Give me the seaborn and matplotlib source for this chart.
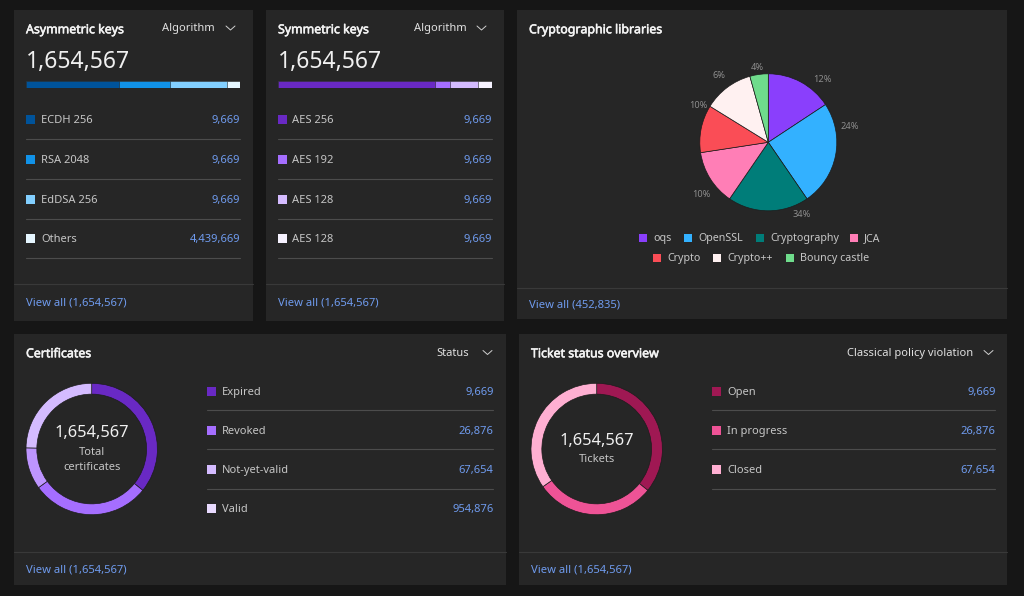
import matplotlib
matplotlib.use("Agg")
import matplotlib.pyplot as plt
import matplotlib.patheffects as pe
from matplotlib.patches import Rectangle
import seaborn as sns

W, H = 1024, 596
PAGE = "#161616"
CARD = "#262626"
TITLE = "#f4f4f4"
LABEL = "#c6c6c6"
LINK = "#6f9bee"
RULE = "#4c4c4c"
FOOT = "#393939"

# Data
total_text = "1,654,567"

asym_labels = ["ECDH 256", "RSA 2048", "EdDSA 256", "Others"]
asym_values = ["9,669", "9,669", "9,669", "4,439,669"]
asym_bar = [93, 51, 57, 13]
asym_colors = ["#00539a", "#1192e8", "#82cfff", "#e5f6ff"]

sym_labels = ["AES 256", "AES 192", "AES 128", "AES 128"]
sym_values = ["9,669", "9,669", "9,669", "9,669"]
sym_bar = [158, 15, 28, 14]
sym_colors = ["#6929c4", "#a56eff", "#d4bbff", "#f6f2ff"]

lib_labels = ["oqs", "OpenSSL", "Cryptography", "JCA", "Crypto", "Crypto++", "Bouncy castle"]
lib_sizes = [56.6, 89, 68.8, 46.9, 40.4, 42.7, 15.6]
lib_pct = ["12%", "24%", "34%", "10%", "10%", "6%", "4%"]
lib_colors = ["#8a3ffc", "#33b1ff", "#007d79", "#ff7eb6", "#fa4d56", "#fff1f1", "#6fdc8c"]

cert_labels = ["Expired", "Revoked", "Not-yet-valid", "Valid"]
cert_values = ["9,669", "26,876", "67,654", "954,876"]
cert_sizes = [129, 105, 37, 89]
cert_colors = ["#6929c4", "#a56eff", "#d4bbff", "#e8daff"]
cert_ring_colors = ["#6929c4", "#a56eff", "#be95ff", "#d4bbff"]

ticket_labels = ["Open", "In progress", "Closed"]
ticket_values = ["9,669", "26,876", "67,654"]
ticket_sizes = [129, 106, 125]
ticket_colors = ["#9f1853", "#ee5396", "#ffafd2"]

sns.set_theme(style="dark", rc={"figure.facecolor": PAGE, "axes.facecolor": "none"})
plt.rcParams["font.family"] = ["Noto Sans", "DejaVu Sans"]

fig = plt.figure(figsize=(W / 100, H / 100), dpi=100, facecolor=PAGE)

# whole-page axes in pixels, for cards and text
page = fig.add_axes([0, 0, 1, 1], zorder=0)
page.set_xlim(0, W)
page.set_ylim(H, 0)
page.axis("off")


def px_axes(x0, y0, x1, y1):
    ax = fig.add_axes([x0 / W, 1 - y1 / H, (x1 - x0) / W, (y1 - y0) / H], zorder=2)
    ax.set_facecolor("none")
    return ax


def txt(x, y, s, size=8.0, color=LABEL, ha="left"):
    # Noto sits a bit high when centred, nudge it down
    return page.text(x, y + 1.3, s, fontsize=size, color=color, ha=ha, va="center", zorder=5)


def card(x0, y0, x1, y1, title, foot_y, foot_text, foot_gap=18.5):
    page.add_patch(Rectangle((x0, y0), x1 - x0, y1 - y0, fc=CARD, ec="none", zorder=1))
    page.plot([x0, x1], [foot_y, foot_y], color=FOOT, lw=0.8, zorder=2)
    t = txt(x0 + 12, y0 + 18.5, title, size=8.9, color=TITLE)
    # no real bold face for this family, so thicken it with a thin stroke
    t.set_path_effects([pe.withStroke(linewidth=0.4, foreground=TITLE)])
    txt(x0 + 12, foot_y + foot_gap, foot_text, size=8.1, color=LINK)


def dropdown(x_text, x_chev, s):
    y = 27.5 if s == "Algorithm" else 352
    txt(x_text, y, s, size=8.0, color="#e0e0e0")
    page.plot([x_chev, x_chev + 4.5, x_chev + 9], [y - 1.5, y + 2.5, y - 1.5], color="#d0d0d0", lw=0.7, zorder=5)


def rows(x0, x1, ys, labels, values, colors, rule_ys):
    for y, lab, val, c in zip(ys, labels, values, colors):
        page.add_patch(Rectangle((x0, y - 4.5), 9, 9, fc=c, ec="none", zorder=3))
        txt(x0 + 15, y, lab)
        txt(x1 + 0.5, y, val, color=LINK, ha="right")
    for y in rule_ys:
        page.plot([x0, x1], [y, y], color=RULE, lw=0.8, zorder=2)


def stacked_bar(x0, x1, y0, y1, values, colors):
    ax = px_axes(x0, y0, x1, y1)
    # longest first, so each shorter bar sits on top of the one before
    running = [sum(values[: i + 1]) for i in range(len(values))]
    for cum, c in reversed(list(zip(running, colors))):
        sns.barplot(x=[cum], y=["all"], color=c, orient="h", width=1, saturation=1,
                    edgecolor=CARD, linewidth=0.4, ax=ax)
    ax.set_xlim(0, sum(values))
    ax.axis("off")


def ring(cx, cy, r, sizes, colors, width=None):
    ax = px_axes(cx - r, cy - r, cx + r, cy + r)
    wedge = {"edgecolor": "#1c1c1c", "linewidth": 0.5}
    if width:
        wedge["width"] = width
    ax.pie(sizes, colors=colors, startangle=90, counterclock=False, radius=1, wedgeprops=wedge)
    ax.set_xlim(-1, 1)
    ax.set_ylim(-1, 1)


# Cards
card(14, 10, 253, 321, "Asymmetric keys", 283.5, "View all (1,654,567)", 18)
card(266, 10, 504, 321, "Symmetric keys", 283.5, "View all (1,654,567)", 18)
card(517, 10, 1007, 319, "Cryptographic libraries", 288, "View all (452,835)", 16)
card(14, 334, 506, 585, "Certificates", 552, "View all (1,654,567)", 16.5)
card(519, 334, 1007, 585, "Ticket status overview", 552, "View all (1,654,567)", 16.5)

dropdown(162, 226, "Algorithm")
dropdown(414, 477, "Algorithm")
dropdown(436, 483, "Status")
dropdown(847, 984, "Classical policy violation")

# Key cards
txt(26, 61, total_text, size=16.5, color="#f0f0f0")
txt(277.5, 61, total_text, size=16.5, color="#f0f0f0")
stacked_bar(26, 240, 81, 87.5, asym_bar, sns.color_palette(asym_colors))
stacked_bar(277.5, 491.5, 81, 87.5, sym_bar, sns.color_palette(sym_colors))
key_rows = [119.5, 159.5, 199, 238.5]
key_rules = [139, 179, 218.5, 258]
rows(26, 240, key_rows, asym_labels, asym_values, asym_colors, key_rules)
rows(277.5, 491.5, key_rows, sym_labels, sym_values, sym_colors, key_rules)

# Pie
ring(768.3, 142.3, 68.5, lib_sizes, sns.color_palette(lib_colors))
pct_xy = [(822, 79), (850, 126), (802, 214), (701, 194), (698, 105), (719, 75), (757, 67)]
for (x, y), s in zip(pct_xy, lib_pct):
    txt(x, y - 1, s, size=6.6, color="#8d8d8d", ha="center")
legend_xy = [(639, 238), (684, 238), (756, 238), (850, 238), (653, 258), (713, 258), (786, 258)]
for (x, y), lab, c in zip(legend_xy, lib_labels, lib_colors):
    page.add_patch(Rectangle((x, y - 4), 8, 8, fc=c, ec="none", zorder=3))
    txt(x + 14, y - 0.5, lab, size=7.7)

# Donuts
ring(91.7, 449, 65.7, cert_sizes, sns.color_palette(cert_ring_colors), width=0.165)
txt(91.7, 432, total_text, size=11.8, color="#f0f0f0", ha="center")
txt(91.7, 451, "Total", ha="center")
txt(91.7, 466, "certificates", ha="center")
rows(207, 493, [391.5, 430.5, 469.5, 508.5], cert_labels, cert_values, cert_colors, [410, 449, 488.5])

ring(596.7, 449, 65.7, ticket_sizes, sns.color_palette(ticket_colors), width=0.165)
txt(596.7, 439.5, total_text, size=11.8, color="#f0f0f0", ha="center")
txt(596.7, 458.5, "Tickets", ha="center")
rows(712, 995, [391.5, 430.5, 469.5], ticket_labels, ticket_values, ticket_colors, [410, 449, 488.5])

fig.savefig("out.png", dpi=100, facecolor=PAGE)
